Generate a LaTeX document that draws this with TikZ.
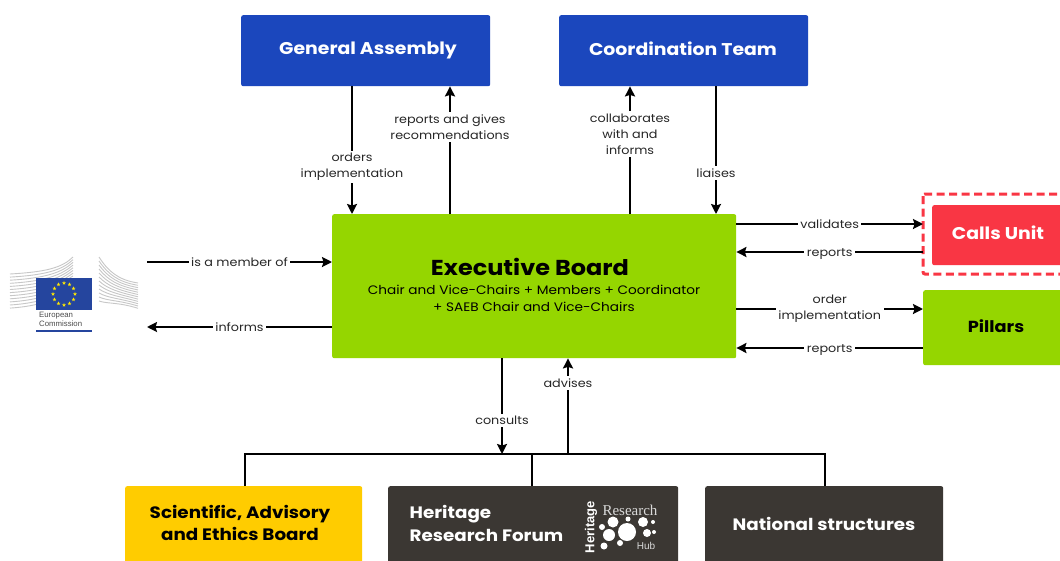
\documentclass[tikz,border=0pt]{standalone}
\usepackage{fontspec}
\setmainfont{Poppins}[FakeStretch=1.11]
\newfontfamily\serifhub{Liberation Serif}
\newfontfamily\sanshub{Liberation Sans}
\usetikzlibrary{arrows.meta,shapes.geometric}
\definecolor{blueb}{HTML}{1B47BD}
\definecolor{greenb}{HTML}{95D600}
\definecolor{redb}{HTML}{F93644}
\definecolor{yellowb}{HTML}{FFCC00}
\definecolor{darkb}{HTML}{3B3733}
\definecolor{flagb}{HTML}{25459E}
\tikzset{
  x=1pt,y=-1pt,
  box/.style={rounded corners=2pt,inner sep=0pt,align=center,anchor=north west},
  title/.style={font=\fontsize{17}{23}\selectfont\bfseries,text=white,inner sep=0pt},
  conn/.style={line width=2.4pt,black},
  arr/.style={conn,-{Stealth[length=10pt,width=10pt,inset=1.5pt]}},
  lab/.style={fill=white,inner sep=2.5pt,align=center,font=\fontsize{11.5}{16}\selectfont,text=black!85},
  build/.style={line width=.9pt,black!22},
}
\begin{document}
\begin{tikzpicture}
\clip (0,0) rectangle (1060,560);
\useasboundingbox (0,0) rectangle (1060,560);
\fill[white] (0,0) rectangle (1060,560);
% boxes
\node[box,fill=blueb,minimum width=249pt,minimum height=71pt] (ga) at (241,15) {};
\node[title] (gat) at (368,50) {General Assembly};
\node[box,fill=blueb,minimum width=249pt,minimum height=71pt] (ct) at (559,15) {};
\node[title] (ctt) at (683,49) {Coordination Team};
\node[box,fill=greenb,minimum width=404pt,minimum height=144pt] (eb) at (332,214) {};
\node[font=\fontsize{21.6}{26}\selectfont\bfseries,text=black,inner sep=0pt] (ebt) at (530,266.5) {Executive Board};
\node[font=\fontsize{12.3}{17}\selectfont,align=center,text=black,inner sep=0pt] (ebs) at (534,298) {Chair and Vice-Chairs + Members + Coordinator\\+ SAEB Chair and Vice-Chairs};
\node[box,fill=redb,minimum width=140pt,minimum height=60pt] (cu) at (932,205) {};
\node[font=\fontsize{17}{20}\selectfont\bfseries,text=white,inner sep=0pt] (cut) at (998,233) {Calls Unit};
\draw[redb,line width=3pt,dash pattern=on 8pt off 4.5pt,rounded corners=2pt] (923,194) rectangle (1075,274);
\coordinate (cuw) at (923,234);
\node[box,fill=greenb,minimum width=150pt,minimum height=75pt] (pi) at (923,290) {};
\node[font=\fontsize{16}{20}\selectfont\bfseries,text=black,inner sep=0pt] (pit) at (996,326) {Pillars};
\node[box,fill=yellowb,minimum width=237pt,minimum height=90pt] (sa) at (125,486) {};
\node[font=\fontsize{16.5}{22.5}\selectfont\bfseries,text=black,align=center,inner sep=0pt] (sat) at (240,523) {Scientific, Advisory\\and Ethics Board};
\node[box,fill=darkb,minimum width=290pt,minimum height=90pt] (hr) at (388,486) {};
\node[font=\fontsize{16.5}{22.5}\selectfont\bfseries,text=white,align=left,inner sep=0pt] (hrt) at (486.5,523.5) {Heritage\\Research Forum};
\node[box,fill=darkb,minimum width=238pt,minimum height=90pt] (ns) at (705,486) {};
\node[font=\fontsize{16.5}{20}\selectfont\bfseries,text=white,inner sep=0pt] (nst) at (824,524) {National structures};
% hub logo
\node[font=\serifhub\fontsize{15}{15}\selectfont,text=black!15,inner sep=0pt] (hub1) at (630,510) {Research};
\node[font=\sanshub\bfseries\fontsize{13}{14}\selectfont,text=white,rotate=90,inner sep=0pt] (hub2) at (591,527) {Heritage};
\node[font=\sanshub\fontsize{10}{10}\selectfont,text=black!15,inner sep=0pt] (hub3) at (646,546) {Hub};
\foreach \px/\py/\pr in {627/532/9,613/522/5.5,643/522/5,628/519/2.5,653/522/2,602/527/3,609/535/6,604/546/3.5,620/543/3,647/533/4,654/532/2}
  \fill[white] (\px,\py) circle[radius=\pr];
% vertical connectors
\coordinate (a1) at (352,0); \coordinate (a2) at (450,0);
\coordinate (a3) at (630,0); \coordinate (a4) at (716,0);
\draw[arr] (a1 |- ga.south) -- node[lab,pos=.632] (l1) {orders\\implementation} (a1 |- eb.north);
\draw[arr] (a2 |- eb.north) -- node[lab,pos=.68] (l2) {reports and gives\\recommendations} (a2 |- ga.south);
\draw[arr] (a3 |- eb.north) -- node[lab,pos=.625] (l3) {collaborates\\with and\\informs} (a3 |- ct.south);
\draw[arr] (a4 |- ct.south) -- node[lab,pos=.68] (l4) {liaises} (a4 |- eb.north);
% right connectors
\coordinate (b1) at (0,224); \coordinate (b2) at (0,252);
\coordinate (b3) at (0,309); \coordinate (b4) at (0,348);
\draw[arr] (eb.east |- b1) -- node[lab,pos=.5] (l5) {validates} (cuw |- b1);
\draw[arr] (cuw |- b2) -- node[lab,pos=.5,yshift=-2.5pt] (l6) {reports} (eb.east |- b2);
\draw[arr] (eb.east |- b3) -- node[lab,pos=.5] (l7) {order\\implementation} (pi.west |- b3);
\draw[arr] (pi.west |- b4) -- node[lab,pos=.5,yshift=-2.5pt] (l8) {reports} (eb.east |- b4);
% left connectors
\coordinate (ec1) at (147,262); \coordinate (ec2) at (147,327);
\draw[arr] (ec1) -- node[lab,pos=.5] (l9) {is a member of} (eb.west |- ec1);
\draw[arr] (eb.west |- ec2) -- node[lab,pos=.5] (l10) {informs} (ec2);
% bottom connectors
\coordinate (bus) at (0,454);
\coordinate (c1) at (502,0); \coordinate (c2) at (568,0);
\coordinate (d1) at (245,0); \coordinate (d2) at (532,0); \coordinate (d3) at (825,0);
\draw[conn,line cap=square] (d1 |- sa.north) -- (d1 |- bus) -- (d3 |- bus) -- (d3 |- ns.north);
\draw[conn] (d2 |- bus) -- (d2 |- hr.north);
\draw[arr] (c1 |- eb.south) -- node[lab,pos=.65,fill=white] (l11) {consults} (c1 |- bus);
\draw[arr] (c2 |- bus) -- node[lab,pos=.74] (l12) {advises} (c2 |- eb.south);
% EC logo
\foreach \i in {0,...,11}{
  \draw[build] (10,{274+\i*3.1}) .. controls ({45+\i*1},{272+\i*3}) and ({62},{268+\i*2.1}) .. ({73},{257+\i*2.7});
  \draw[build] (99,{257+\i*4}) .. controls ({108},{271+\i*3}) and ({118},{280+\i*2}) .. (138,{283+\i*2.3});
}
\fill[flagb] (36,278) rectangle (92,310);
\foreach \ang in {0,30,...,330}
  \node[star,star points=5,star point ratio=2.4,fill=yellow!90!orange,inner sep=0pt,minimum size=4.2pt] at ({64+11*cos(\ang)},{294+11*sin(\ang)}) {};
\node[font=\sanshub\fontsize{7.8}{8.5}\selectfont,align=left,text=black!70,inner sep=0pt,anchor=north west] (ect) at (39,312) {European\\Commission};
\fill[flagb] (36,329.5) rectangle (92,332);
\end{tikzpicture}
\end{document}
